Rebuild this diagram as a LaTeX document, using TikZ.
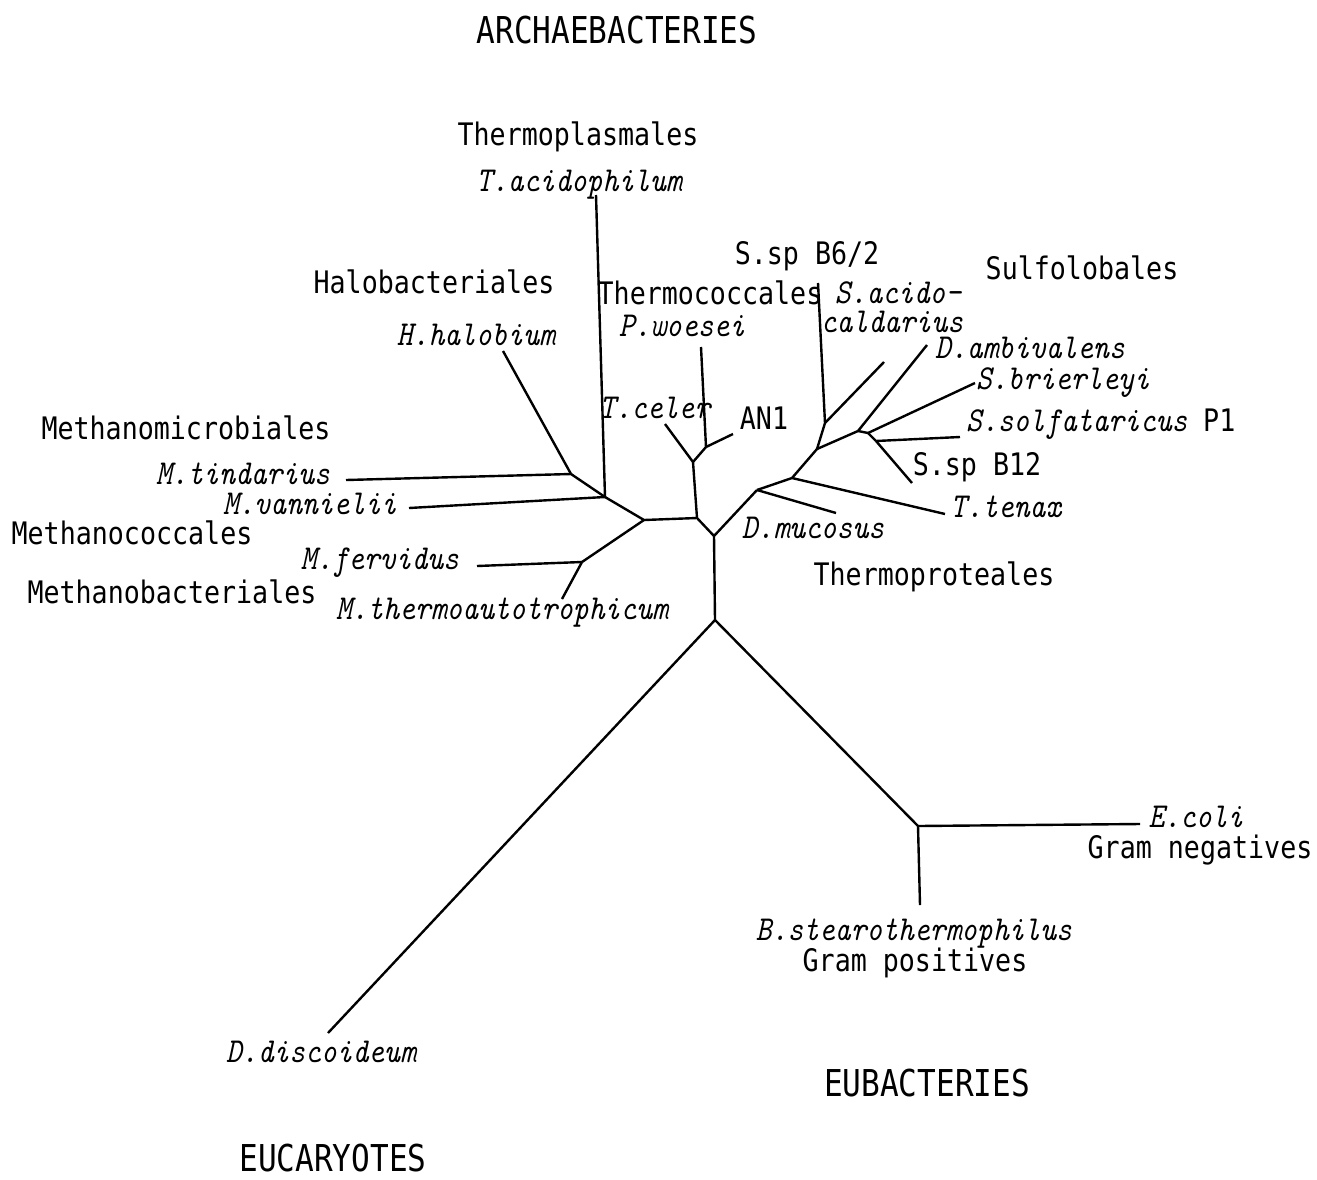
\documentclass[tikz,border=0pt]{standalone}
\usepackage{fontspec}
\usepackage{tikz}
\newfontfamily\grpfont{DejaVu Sans Mono}[FakeStretch=0.86]
\newfontfamily\kingfont{DejaVu Sans Mono}[FakeStretch=0.84]
\newfontfamily\spfont{lmmono10-regular.otf}[ItalicFont=lmmono10-italic.otf, FakeStretch=0.86]

\tikzset{
  grp/.style={font=\grpfont\fontsize{15.5}{18}\selectfont, inner sep=0pt},
  kingdom/.style={font=\kingfont\fontsize{18.5}{22}\selectfont, inner sep=0pt},
  sp/.style={font=\spfont\itshape\fontsize{17.5}{20}\selectfont, inner sep=0pt},
}

\begin{document}
\begin{tikzpicture}[x=0.5pt,y=-0.5pt,line width=1.2pt]
  \useasboundingbox (0,0) rectangle (1317,1179);

  % junctions
  \coordinate (R) at (715,620);
  \coordinate (n6) at (714,536);
  \coordinate (n4) at (697,518);
  \coordinate (n3) at (644,520);
  \coordinate (n2) at (605,497);
  \coordinate (n1) at (571,474);
  \coordinate (n5) at (582,562);
  \coordinate (tc) at (693,462);
  \coordinate (tp) at (706,447);
  \coordinate (tpr) at (757,490);
  \coordinate (t2) at (792,478);
  \coordinate (s1) at (817,449);
  \coordinate (s2) at (825,423);
  \coordinate (s3) at (858,431);
  \coordinate (s4) at (868,433);
  \coordinate (s5) at (876,441);
  \coordinate (eb) at (918,826);

  % leaf ends
  \coordinate (tacid) at (596,195);
  \coordinate (hhal) at (503,351);
  \coordinate (mtind) at (346,480);
  \coordinate (mvan) at (409,508);
  \coordinate (mferv) at (477,566);
  \coordinate (mtherm) at (562,599);
  \coordinate (tcel) at (665,424);
  \coordinate (pwoe) at (701,347);
  \coordinate (an1) at (733,434);
  \coordinate (dmuc) at (836,513);
  \coordinate (tten) at (945,514);
  \coordinate (sb62) at (818,283);
  \coordinate (sacid) at (884,362);
  \coordinate (damb) at (927,345);
  \coordinate (sbri) at (975,383);
  \coordinate (ssol) at (960,437);
  \coordinate (sb12) at (912,483);
  \coordinate (ecoli) at (1140,824);
  \coordinate (bstear) at (920,905);
  \coordinate (ddisc) at (328,1033);

  % tree
  \draw[-](R)--(ddisc);
  \draw[-](R)--(eb);
  \draw[-](eb)--(ecoli);
  \draw[-](eb)--(bstear);
  \draw[-](R)--(n6);
  \draw[-](n6)--(n4);
  \draw[-](n4)--(n3);
  \draw[-](n3)--(n2);
  \draw[-](n3)--(n5);
  \draw[-](n5)--(mferv);
  \draw[-](n5)--(mtherm);
  \draw[-](n2)--(mvan);
  \draw[-](n2)--(tacid);
  \draw[-](n2)--(n1);
  \draw[-](n1)--(mtind);
  \draw[-](n1)--(hhal);
  \draw[-](n4)--(tc);
  \draw[-](tc)--(tcel);
  \draw[-](tc)--(tp);
  \draw[-](tp)--(pwoe);
  \draw[-](tp)--(an1);
  \draw[-](n6)--(tpr);
  \draw[-](tpr)--(dmuc);
  \draw[-](tpr)--(t2);
  \draw[-](t2)--(tten);
  \draw[-](t2)--(s1);
  \draw[-](s1)--(s2);
  \draw[-](s2)--(sb62);
  \draw[-](s2)--(sacid);
  \draw[-](s1)--(s3);
  \draw[-](s3)--(damb);
  \draw[-](s3)--(s4);
  \draw[-](s4)--(sbri);
  \draw[-](s4)--(s5);
  \draw[-](s5)--(ssol);
  \draw[-](s5)--(sb12);

  % kingdoms
  \node[kingdom] (archae) at (617,30) {ARCHAEBACTERIES};
  \node[kingdom] (eubac) at (927,1083) {EUBACTERIES};
  \node[kingdom] (eucar) at (333,1158) {EUCARYOTES};

  % groups
  \node[grp] (thplas) at (578,137) {Thermoplasmales};
  \node[grp] (halo) at (434,282) {Halobacteriales};
  \node[grp] (thcoc) at (710,293) {Thermococcales};
  \node[grp] (sspb62) at (807,256) {S.sp B6/2};
  \node[grp] (sulfo) at (1082,268) {Sulfolobales};
  \node[grp] (an1lab) at (764,418) {AN1};
  \node[grp] (sspb12) at (977,467) {S.sp B12};
  \node[grp] (thprot) at (934,577) {Thermoproteales};
  \node[grp] (methmic) at (186,428) {Methanomicrobiales};
  \node[grp] (methcoc) at (132,533) {Methanococcales};
  \node[grp] (methbac) at (172,592) {Methanobacteriales};
  \node[grp] (gramneg) at (1200,850) {Gram negatives};
  \node[grp] (grampos) at (915,963) {Gram positives};

  % species
  \node[sp] (tacidlab) at (579,185) {T.acidophilum};
  \node[sp] (hhallab) at (476,335) {H.halobium};
  \node[sp] (pwoelab) at (682,326) {P.woesei};
  \node[sp] (tcellab) at (655,408) {T.celer};
  \node[sp,align=left,font=\spfont\itshape\fontsize{17.5}{14.5}\selectfont] (sacidlab) at (892,307) {\hspace{7pt}S.acido-\\caldarius};
  \node[sp] (damblab) at (1030,348) {D.ambivalens};
  \node[sp] (sbrilab) at (1063,383) {S.brierleyi};
  \node[sp,anchor=west] (ssollab) at (965,424) {S.solfataricus {\grpfont\upshape\fontsize{15.5}{18}\selectfont P1}};
  \node[sp] (ttenlab) at (1006,507) {T.tenax};
  \node[sp] (dmuclab) at (813,528) {D.mucosus};
  \node[sp] (mtindlab) at (243,474) {M.tindarius};
  \node[sp] (mvanlab) at (310,504) {M.vannielii};
  \node[sp] (mfervlab) at (380,563) {M.fervidus};
  \node[sp] (mthermlab) at (502,613) {M.thermoautotrophicum};
  \node[sp] (ecolilab) at (1196,817) {E.coli};
  \node[sp] (bstearlab) at (914,934) {B.stearothermophilus};
  \node[sp] (ddisclab) at (321,1052) {D.discoideum};
\end{tikzpicture}
\end{document}
